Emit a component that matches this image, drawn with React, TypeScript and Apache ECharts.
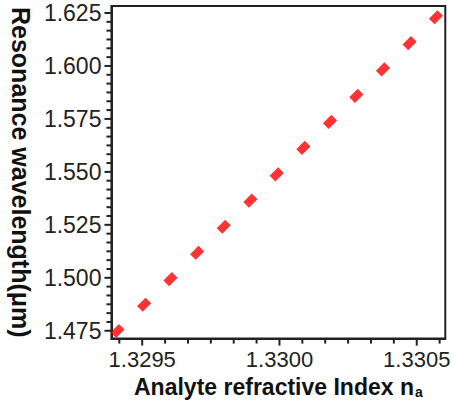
import React, { useEffect, useRef } from "react";
import * as echarts from "echarts";

const xValues = [1.32941, 1.329507, 1.329603, 1.3297, 1.329797, 1.329894, 1.32999, 1.330087, 1.330184, 1.33028, 1.330377, 1.330474, 1.33057];
const yValues = [1.4749, 1.4873, 1.4994, 1.5118, 1.5241, 1.5364, 1.5488, 1.5613, 1.5736, 1.5859, 1.5984, 1.6108, 1.623];
const xMajorTicks = [1.3295, 1.33, 1.3305];
const yMajorTicks = [1.475, 1.5, 1.525, 1.55, 1.575, 1.6, 1.625];
const X_MIN = 1.329388;
const X_MAX = 1.330604;
const Y_MIN = 1.4713;
const Y_MAX = 1.6283;

function minorBetween(major: number[], parts: number, lo: number, hi: number) {
  const step = (major[1] - major[0]) / parts;
  const out: number[] = [];
  const start = major[0] - Math.floor((major[0] - lo) / step) * step;
  for (let i = 0; ; i++) {
    const v = start + i * step;
    if (v > hi + 1e-12) break;
    const isMajor = major.some((m) => Math.abs(m - v) < step / 10);
    if (!isMajor && v >= lo && v <= hi) out.push(+v.toFixed(8));
  }
  return out;
}

export default function App() {
  const ref = useRef<HTMLDivElement>(null);
  useEffect(() => {
    document.body.style.margin = "0";
    const chart = echarts.init(ref.current!, null, { renderer: "svg" });
    const font = "Arial, 'Liberation Sans', sans-serif";
    const axisColor = "#222";
    const xMinor = minorBetween(xMajorTicks, 6, X_MIN, X_MAX);
    const yMinor = minorBetween(yMajorTicks, 6, Y_MIN, Y_MAX);

    const xTickSeries = (vals: number[], len: number) => ({
      type: "custom",
      clip: false,
      silent: true,
      z: 5,
      data: vals.map((v) => [v, Y_MIN]),
      renderItem: (_p: any, api: any) => {
        const p = api.coord([api.value(0), Y_MIN]);
        return {
          type: "rect",
          shape: { x: p[0] - 1, y: p[1], width: 2, height: len },
          style: { fill: axisColor },
        };
      },
    });
    const yTickSeries = (vals: number[], len: number) => ({
      type: "custom",
      clip: false,
      silent: true,
      z: 5,
      data: vals.map((v) => [X_MIN, v]),
      renderItem: (_p: any, api: any) => {
        const p = api.coord([X_MIN, api.value(1)]);
        return {
          type: "rect",
          shape: { x: p[0] - len, y: p[1] - 1, width: len, height: 2 },
          style: { fill: axisColor },
        };
      },
    });

    chart.setOption({
      animation: false,
      grid: {
        left: 107,
        top: 6,
        right: 7,
        bottom: 62,
        show: true,
        borderColor: axisColor,
        borderWidth: 2,
      },
      xAxis: {
        type: "value",
        min: X_MIN,
        max: X_MAX,
        position: "bottom",
        splitLine: { show: false },
        axisLine: { show: true, onZero: false, lineStyle: { color: axisColor, width: 2 } },
        axisTick: { show: false },
        axisLabel: {
          customValues: xMajorTicks,
          formatter: (v: number) => v.toFixed(4),
          fontSize: 22,
          fontFamily: font,
          color: "#222",
          margin: 10,
        },
        name: "{b|Analyte refractive Index n}{s|a}",
        nameLocation: "middle",
        nameGap: 27,
        nameTextStyle: {
          rich: {
            b: { fontSize: 23, fontWeight: "bold", fontFamily: font, color: "#111" },
            s: { fontSize: 14, fontWeight: "bold", fontFamily: font, color: "#111", verticalAlign: "bottom", padding: [10, 0, 0, 1] },
          },
        },
      },
      yAxis: {
        type: "value",
        min: Y_MIN,
        max: Y_MAX,
        position: "left",
        splitLine: { show: false },
        axisLine: { show: true, onZero: false, lineStyle: { color: axisColor, width: 2 } },
        axisTick: { show: false },
        axisLabel: {
          customValues: yMajorTicks,
          formatter: (v: number) => v.toFixed(3),
          fontSize: 23,
          fontFamily: font,
          color: "#222",
          margin: 10,
        },
        name: "Resonance wavelength(μm)",
        nameLocation: "middle",
        nameRotate: -90,
        nameGap: 74,
        nameTextStyle: { fontSize: 25, fontWeight: "bold", fontFamily: font, color: "#111" },
      },
      series: [
        xTickSeries(xMajorTicks, 7),
        xTickSeries(xMinor, 5),
        yTickSeries(yMajorTicks, 7),
        yTickSeries(yMinor, 5),
        {
          type: "scatter",
          data: xValues.map((x, i) => [x, yValues[i]]),
          symbol: "rect",
          symbolSize: [12, 8],
          symbolRotate: 45,
          itemStyle: { color: "#ff0000" },
          clip: false,
        },
      ],
    });
    return () => chart.dispose();
  }, []);
  return <div ref={ref} style={{ width: 453, height: 404 }} />;
}
